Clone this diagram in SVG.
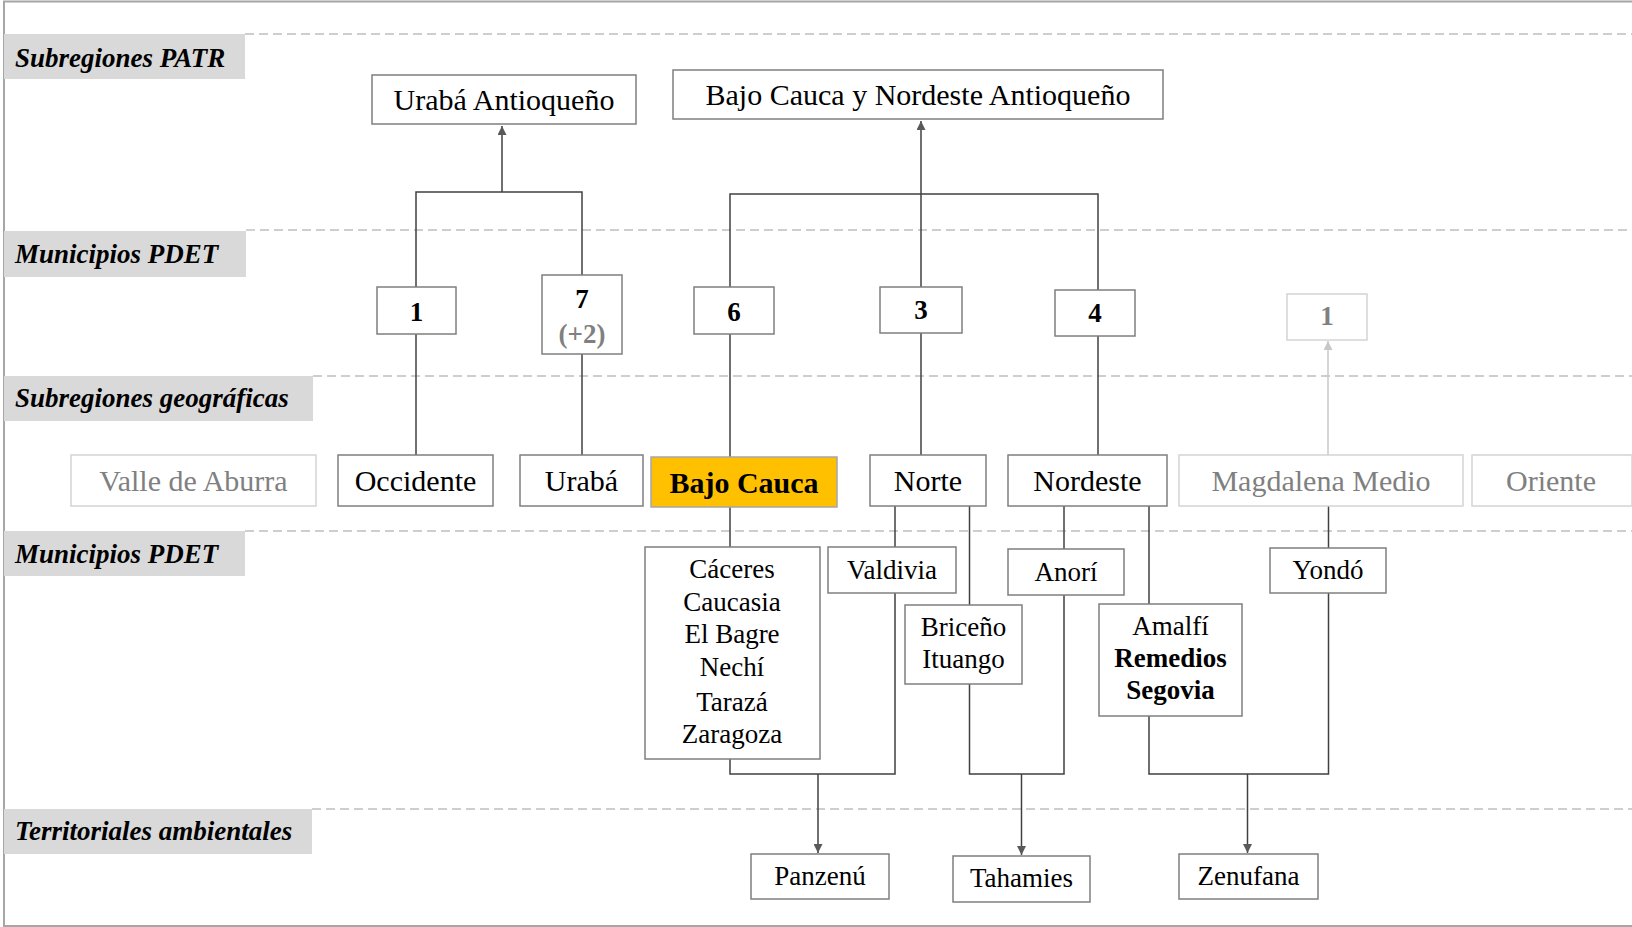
<svg xmlns="http://www.w3.org/2000/svg" width="1632" height="927" viewBox="0 0 1632 927">
<defs>
<style>
text{font-family:"Liberation Serif","Times New Roman",serif;text-anchor:middle;fill:#000}
.lbl{font-size:27px;font-weight:bold;font-style:italic;text-anchor:start}
.lblbg{fill:#d9d9d9}
.dash{stroke:#bfbfbf;stroke-width:1.4;stroke-dasharray:9 5;fill:none}
.box{fill:#fff;stroke:#7f7f7f;stroke-width:1.5}
.lbox{fill:#fff;stroke:#d4d4d4;stroke-width:1.5}
.hl{fill:#ffc000;stroke:#a6a6a6;stroke-width:1.5}
.t30{font-size:30px}
.t27{font-size:27px}
.num{font-size:27px;font-weight:bold}
.grey{fill:#808080}
.b{font-weight:bold}
.con{fill:none;stroke:#404040;stroke-width:1.5}
.lcon{fill:none;stroke:#c8c8c8;stroke-width:1.5}
</style>
<marker id="ah" viewBox="0 0 10 10" refX="10" refY="5" markerWidth="9" markerHeight="9" markerUnits="userSpaceOnUse" orient="auto">
<path d="M0,0 L10,5 L0,10 z" fill="#595959"/>
</marker>
<marker id="ahl" viewBox="0 0 10 10" refX="10" refY="5" markerWidth="9" markerHeight="9" markerUnits="userSpaceOnUse" orient="auto">
<path d="M0,0 L10,5 L0,10 z" fill="#c8c8c8"/>
</marker>
</defs>
<rect width="1632" height="927" fill="#fff"/>
<path d="M1632,1.5 H4 V926 H1632" fill="none" stroke="#a6a6a6" stroke-width="2"/>

<g id="bands">
<line class="dash" x1="245" y1="34" x2="1632" y2="34"/>
<line class="dash" x1="246" y1="230" x2="1632" y2="230"/>
<line class="dash" x1="313" y1="376" x2="1632" y2="376"/>
<line class="dash" x1="245" y1="531" x2="1632" y2="531"/>
<line class="dash" x1="312" y1="809" x2="1632" y2="809"/>
<rect class="lblbg" x="4" y="34" width="241" height="45"/>
<text class="lbl" x="15" y="67">Subregiones PATR</text>
<rect class="lblbg" x="4" y="231" width="242" height="46"/>
<text class="lbl" x="15" y="263">Municipios PDET</text>
<rect class="lblbg" x="4" y="376" width="309" height="45"/>
<text class="lbl" x="15" y="407">Subregiones geográficas</text>
<rect class="lblbg" x="4" y="531" width="241" height="45"/>
<text class="lbl" x="15" y="563">Municipios PDET</text>
<rect class="lblbg" x="4" y="809" width="308" height="45"/>
<text class="lbl" x="15" y="840">Territoriales ambientales</text>
</g>

<g id="connectors">
<path class="con" d="M416,287 V192 H582 V275"/>
<path class="con" d="M502,192 V126" marker-end="url(#ah)"/>
<path class="con" d="M416,334 V455"/>
<path class="con" d="M582,354 V455"/>
<path class="con" d="M730,287 V194 H1098 V290"/>
<path class="con" d="M921,287 V194"/>
<path class="con" d="M921,194 V121" marker-end="url(#ah)"/>
<path class="con" d="M730,334 V457"/>
<path class="con" d="M921,333 V455"/>
<path class="con" d="M1098,336 V455"/>
<path class="lcon" d="M1328,455 V341" marker-end="url(#ahl)"/>
<path class="con" d="M730,507 V547"/>
<path class="con" d="M730,759 V774 H895 V593"/>
<path class="con" d="M895,506 V547"/>
<path class="con" d="M969.5,506 V605"/>
<path class="con" d="M969.5,684 V774 H1064 V595"/>
<path class="con" d="M1064,506 V549"/>
<path class="con" d="M1149,506 V604"/>
<path class="con" d="M1149,716 V774 H1328.5 V593"/>
<path class="con" d="M1328.5,506 V548"/>
<path class="con" d="M818,774 V853" marker-end="url(#ah)"/>
<path class="con" d="M1021.5,774 V855" marker-end="url(#ah)"/>
<path class="con" d="M1247.5,774 V853" marker-end="url(#ah)"/>
</g>

<g id="n-uraba-antioqueno"><rect class="box" x="372" y="75" width="264" height="49"/><text class="t30" x="504" y="110">Urabá Antioqueño</text></g>
<g id="n-bajo-cauca-nordeste"><rect class="box" x="673" y="70" width="490" height="49"/><text class="t30" x="918" y="105">Bajo Cauca y Nordeste Antioqueño</text></g>

<g id="n-num-1"><rect class="box" x="377" y="287" width="79" height="47"/><text class="num" x="416.5" y="321">1</text></g>
<g id="n-num-7"><rect class="box" x="542" y="275" width="80" height="79"/><text class="num" x="582" y="308">7</text><text class="num grey" x="582" y="343">(+2)</text></g>
<g id="n-num-6"><rect class="box" x="694" y="287" width="80" height="47"/><text class="num" x="734" y="321">6</text></g>
<g id="n-num-3"><rect class="box" x="880" y="287" width="82" height="46"/><text class="num" x="921" y="319">3</text></g>
<g id="n-num-4"><rect class="box" x="1055" y="290" width="80" height="46"/><text class="num" x="1095" y="322">4</text></g>
<g id="n-num-1b"><rect class="lbox" x="1287" y="294" width="80" height="46"/><text class="num grey" x="1327" y="325">1</text></g>

<g id="n-valle"><rect class="lbox" x="71" y="455" width="245" height="51"/><text class="t30 grey" x="193.5" y="491">Valle de Aburra</text></g>
<g id="n-occidente"><rect class="box" x="338" y="455" width="155" height="51"/><text class="t30" x="415.5" y="491">Occidente</text></g>
<g id="n-uraba"><rect class="box" x="520" y="455" width="123" height="51"/><text class="t30" x="581.5" y="491">Urabá</text></g>
<g id="n-bajo-cauca"><rect class="hl" x="651" y="457" width="186" height="50"/><text class="t30 b" x="744" y="493">Bajo Cauca</text></g>
<g id="n-norte"><rect class="box" x="870" y="455" width="116" height="51"/><text class="t30" x="928" y="491">Norte</text></g>
<g id="n-nordeste"><rect class="box" x="1008" y="455" width="159" height="51"/><text class="t30" x="1087.5" y="491">Nordeste</text></g>
<g id="n-magdalena"><rect class="lbox" x="1179" y="455" width="284" height="51"/><text class="t30 grey" x="1321" y="491">Magdalena Medio</text></g>
<g id="n-oriente"><rect class="lbox" x="1472" y="455" width="160" height="51"/><text class="t30 grey" x="1551" y="491">Oriente</text></g>

<g id="n-bc-municipios"><rect class="box" x="645" y="547" width="175" height="212"/>
<text class="t27" x="732" y="578">Cáceres</text>
<text class="t27" x="732" y="611">Caucasia</text>
<text class="t27" x="732" y="643">El Bagre</text>
<text class="t27" x="732" y="676">Nechí</text>
<text class="t27" x="732" y="711">Tarazá</text>
<text class="t27" x="732" y="743">Zaragoza</text></g>
<g id="n-valdivia"><rect class="box" x="828" y="547" width="128" height="46"/><text class="t27" x="892" y="579">Valdivia</text></g>
<g id="n-briceno"><rect class="box" x="905" y="605" width="117" height="79"/><text class="t27" x="963.5" y="636">Briceño</text><text class="t27" x="963.5" y="668">Ituango</text></g>
<g id="n-anori"><rect class="box" x="1008" y="549" width="116" height="46"/><text class="t27" x="1066" y="581">Anorí</text></g>
<g id="n-amalfi"><rect class="box" x="1099" y="604" width="143" height="112"/><text class="t27" x="1170.5" y="635">Amalfí</text><text class="t27 b" x="1170.5" y="667">Remedios</text><text class="t27 b" x="1170.5" y="699">Segovia</text></g>
<g id="n-yondo"><rect class="box" x="1270" y="548" width="116" height="45"/><text class="t27" x="1328" y="579">Yondó</text></g>

<g id="n-panzenu"><rect class="box" x="751" y="854" width="138" height="45"/><text class="t27" x="820" y="885">Panzenú</text></g>
<g id="n-tahamies"><rect class="box" x="953" y="856" width="137" height="46"/><text class="t27" x="1021.5" y="887">Tahamies</text></g>
<g id="n-zenufana"><rect class="box" x="1179" y="854" width="139" height="45"/><text class="t27" x="1248.5" y="885">Zenufana</text></g>
</svg>
